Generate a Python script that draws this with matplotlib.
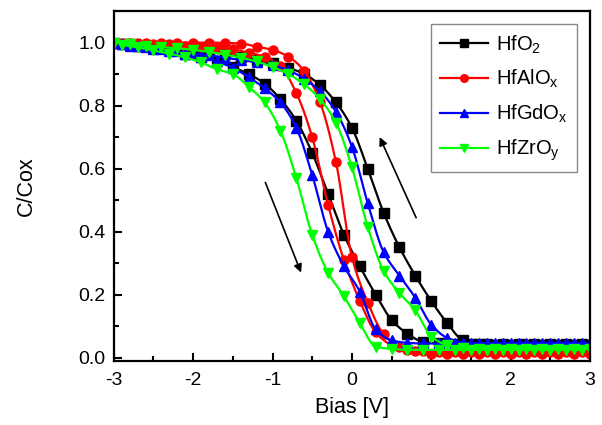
import numpy as np
import matplotlib
matplotlib.use('Agg')
import matplotlib.pyplot as plt
from matplotlib.ticker import MultipleLocator

plt.rcParams['font.family'] = ['Liberation Sans', 'DejaVu Sans']
plt.rcParams['mathtext.fontset'] = 'custom'
plt.rcParams['mathtext.rm'] = 'Liberation Sans'
plt.rcParams['mathtext.it'] = 'Liberation Sans'
plt.rcParams['axes.unicode_minus'] = False

# bias points of the two sweeps (0.2 V step, offset by 0.1 V)
bias_up = [-3.0, -2.8, -2.6, -2.4, -2.2, -2.0, -1.8, -1.6, -1.4, -1.2, -1.0,
           -0.8, -0.6, -0.4, -0.2, 0.0, 0.2, 0.4, 0.6, 0.8, 1.0,
           1.2, 1.4, 1.6, 1.8, 2.0, 2.2, 2.4, 2.6, 2.8, 3.0]
bias_dn = [-2.9, -2.7, -2.5, -2.3, -2.1, -1.9, -1.7, -1.5, -1.3, -1.1,
           -0.9, -0.7, -0.5, -0.3, -0.1, 0.1, 0.3, 0.5, 0.7, 0.9,
           1.1, 1.3, 1.5, 1.7, 1.9, 2.1, 2.3, 2.5, 2.7, 2.9]

labels = ['HfO$_2$', 'HfAlO$_x$', 'HfGdO$_x$', 'HfZrO$_y$']
colors = ['#000000', '#ff0000', '#0000ff', '#00ff00']
markers = ['s', 'o', '^', 'v']

# right-hand branches (sweep back up)
hfo2_up = [1.0, 0.995, 0.99, 0.985, 0.98, 0.975, 0.97, 0.963, 0.955, 0.945, 0.935,
           0.92, 0.90, 0.865, 0.81, 0.73, 0.60, 0.46, 0.35, 0.26, 0.18,
           0.11, 0.055, 0.042, 0.04, 0.04, 0.04, 0.04, 0.04, 0.04, 0.04]
hfalo_up = [1.0, 1.0, 1.0, 1.0, 1.0, 1.0, 1.0, 0.999, 0.997, 0.987, 0.977,
            0.955, 0.91, 0.81, 0.62, 0.32, 0.175, 0.075, 0.035, 0.02, 0.013,
            0.012, 0.012, 0.012, 0.012, 0.012, 0.012, 0.012, 0.012, 0.012, 0.012]
hfgdo_up = [1.0, 0.99, 0.985, 0.978, 0.972, 0.966, 0.96, 0.952, 0.945, 0.937, 0.928,
            0.912, 0.885, 0.845, 0.78, 0.67, 0.49, 0.335, 0.26, 0.19, 0.105,
            0.063, 0.048, 0.045, 0.045, 0.045, 0.045, 0.045, 0.045, 0.045, 0.045]
hfzro_up = [1.0, 0.995, 0.99, 0.986, 0.982, 0.977, 0.97, 0.962, 0.952, 0.94, 0.922,
            0.90, 0.867, 0.82, 0.745, 0.605, 0.415, 0.275, 0.205, 0.15, 0.067,
            0.04, 0.03, 0.028, 0.028, 0.028, 0.028, 0.028, 0.028, 0.028, 0.028]

# left-hand branches (sweep down)
hfo2_dn = [0.995, 0.99, 0.984, 0.978, 0.965, 0.955, 0.94, 0.922, 0.90, 0.87,
           0.82, 0.752, 0.65, 0.52, 0.39, 0.29, 0.20, 0.12, 0.076, 0.05,
           0.045, 0.043, 0.043, 0.043, 0.043, 0.043, 0.043, 0.043, 0.043, 0.043]
hfalo_dn = [1.0, 0.998, 0.996, 0.994, 0.99, 0.987, 0.983, 0.978, 0.968, 0.955,
            0.925, 0.84, 0.70, 0.485, 0.31, 0.18, 0.08, 0.04, 0.025, 0.02,
            0.018, 0.018, 0.018, 0.018, 0.018, 0.018, 0.018, 0.018, 0.018, 0.018]
hfgdo_dn = [0.995, 0.988, 0.98, 0.972, 0.963, 0.953, 0.94, 0.92, 0.89, 0.855,
            0.81, 0.73, 0.58, 0.40, 0.29, 0.21, 0.09, 0.055, 0.047, 0.045,
            0.045, 0.045, 0.045, 0.045, 0.045, 0.045, 0.045, 0.045, 0.045, 0.045]
hfzro_dn = [0.993, 0.985, 0.975, 0.965, 0.953, 0.937, 0.915, 0.90, 0.86, 0.81,
            0.72, 0.57, 0.39, 0.27, 0.195, 0.11, 0.035, 0.028, 0.025, 0.025,
            0.025, 0.025, 0.025, 0.025, 0.025, 0.025, 0.025, 0.025, 0.025, 0.025]

up_sets = [hfo2_up, hfalo_up, hfgdo_up, hfzro_up]
dn_sets = [hfo2_dn, hfalo_dn, hfgdo_dn, hfzro_dn]


# monotone cubic (Fritsch-Carlson) so the lines look like the smoothed originals
def smooth(x, y, n=12):
    x = np.asarray(x, float)
    y = np.asarray(y, float)
    h = np.diff(x)
    d = np.diff(y) / h
    m = np.zeros_like(y)
    m[0], m[-1] = d[0], d[-1]
    for k in range(1, len(x) - 1):
        if d[k - 1] * d[k] > 0:
            w1 = 2 * h[k] + h[k - 1]
            w2 = h[k] + 2 * h[k - 1]
            m[k] = (w1 + w2) / (w1 / d[k - 1] + w2 / d[k])
    xs, ys = [], []
    for k in range(len(x) - 1):
        t = np.linspace(0, 1, n, endpoint=False)
        h00 = 2*t**3 - 3*t**2 + 1
        h10 = t**3 - 2*t**2 + t
        h01 = -2*t**3 + 3*t**2
        h11 = t**3 - t**2
        xs.append(x[k] + t * h[k])
        ys.append(h00*y[k] + h10*h[k]*m[k] + h01*y[k+1] + h11*h[k]*m[k+1])
    xs.append([x[-1]])
    ys.append([y[-1]])
    return np.concatenate(xs), np.concatenate(ys)


fig, ax = plt.subplots(figsize=(6.02, 4.25), dpi=100)
fig.subplots_adjust(left=0.189, right=0.980, bottom=0.151, top=0.974)

for up, dn, c, mk, lab in zip(up_sets, dn_sets, colors, markers, labels):
    for xv, yv in [(bias_up, up), (bias_dn, dn)]:
        sx, sy = smooth(xv, yv)
        ax.plot(sx, sy, color=c, lw=1.6)
        ax.plot(xv, yv, ls='none', marker=mk, color=c, ms=6.5)
    ax.plot([], [], color=c, lw=1.6, marker=mk, ms=5.5, label=lab)

# sweep direction arrows
ax.annotate('', xy=(-0.64, 0.27), xytext=(-1.09, 0.556),
            arrowprops=dict(arrowstyle='-|>', color='black', lw=1.2,
                            mutation_scale=12, shrinkA=0, shrinkB=0))
ax.annotate('', xy=(0.35, 0.70), xytext=(0.81, 0.444),
            arrowprops=dict(arrowstyle='-|>', color='black', lw=1.2,
                            mutation_scale=12, shrinkA=0, shrinkB=0))

ax.set_xlim(-3, 3)
ax.set_ylim(-0.01, 1.1)
ax.xaxis.set_major_locator(MultipleLocator(1))
ax.xaxis.set_minor_locator(MultipleLocator(0.5))
ax.yaxis.set_major_locator(MultipleLocator(0.2))
ax.yaxis.set_minor_locator(MultipleLocator(0.1))
ax.set_yticks([0, 0.2, 0.4, 0.6, 0.8, 1.0])
ax.set_yticklabels(['0.0', '0.2', '0.4', '0.6', '0.8', '1.0'])
ax.tick_params(which='major', direction='in', length=6, width=1.5, labelsize=14, pad=6)
ax.tick_params(axis='x', which='major', pad=8)
ax.tick_params(which='minor', direction='in', length=3.5, width=1.5)
for s in ax.spines.values():
    s.set_linewidth(1.6)

ax.set_xlabel('Bias [V]', fontsize=15.5, labelpad=6)
ax.set_ylabel('C/Cox', fontsize=15.5, labelpad=30)

leg = ax.legend(loc='upper right', bbox_to_anchor=(0.973, 0.962), borderaxespad=0,
                fontsize=14.5, handlelength=2.4, handletextpad=0.4, labelspacing=0.62,
                borderpad=0.45, fancybox=False, framealpha=1)
leg.get_frame().set_edgecolor('#888888')
leg.get_frame().set_linewidth(1.0)

plt.savefig('out.png', dpi=100)
